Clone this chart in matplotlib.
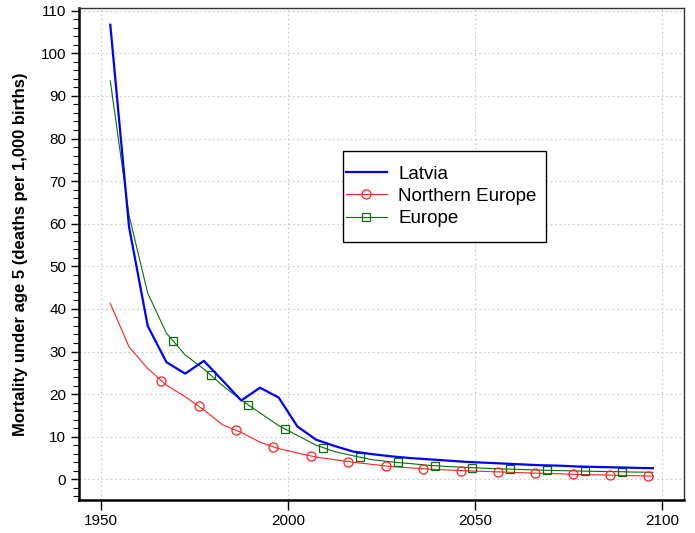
import numpy as np
import matplotlib
matplotlib.use("Agg")
import matplotlib.pyplot as plt
from matplotlib.ticker import MultipleLocator
from matplotlib.patches import Rectangle

plt.rcParams['font.family'] = ['Liberation Sans', 'DejaVu Sans']

years = [1952.5 + 5 * i for i in range(30)]
latvia = [106.7, 59.3, 36.0, 27.5, 24.8, 27.8, 23.2, 18.5, 21.5, 19.2,
          12.4, 9.3, 7.8, 6.5, 5.9, 5.4, 5.0, 4.7, 4.4, 4.1,
          3.9, 3.7, 3.5, 3.3, 3.2, 3.0, 2.9, 2.8, 2.7, 2.6]
northern_europe = [41.3, 31.1, 26.0, 22.1, 19.4, 16.3, 12.8, 11.0, 8.7, 7.2,
                   6.2, 5.2, 4.6, 4.0, 3.5, 3.0, 2.7, 2.4, 2.2, 2.0,
                   1.85, 1.7, 1.55, 1.4, 1.3, 1.15, 1.05, 0.95, 0.85, 0.75]
europe = [93.5, 62.0, 43.7, 34.3, 29.2, 25.9, 22.0, 18.6, 15.6, 12.6,
          10.3, 8.0, 6.5, 5.5, 4.6, 4.1, 3.7, 3.3, 3.0, 2.8,
          2.6, 2.45, 2.3, 2.15, 2.05, 1.95, 1.85, 1.8, 1.7, 1.65]

series_names = ["Latvia", "Northern Europe", "Europe"]
title = "Mortality under age 5"
ylabel = "Mortality under age 5 (deaths per 1,000 births)"

fig = plt.figure(figsize=(6.95, 5.33), dpi=100)
ax = fig.add_axes([0.1132, 0.0619, 0.8703, 0.924])

blue = '#0000ff'
red = '#ff2020'
green = '#0a6e0a'

ax.plot(years, latvia, color=blue, lw=1.6, zorder=3)
ax.plot(years, northern_europe, color=red, lw=0.8, zorder=2)
ax.plot(years, europe, color=green, lw=0.8, zorder=2)

# marker positions along the lines
circ_x = np.arange(1966.1, 2098, 10.0)
sq_x = np.arange(1969.3, 2095, 10.0)
ax.plot(circ_x, np.interp(circ_x, years, northern_europe), ls='none', marker='o',
        ms=6.5, mfc='none', mec=red, mew=0.9, zorder=2)
ax.plot(sq_x, np.interp(sq_x, years, europe), ls='none', marker='s',
        ms=6, mfc='none', mec=green, mew=0.9, zorder=2)

# legend frame (drawn separately for R-like padding)
ax.add_patch(Rectangle((0.437, 0.524), 0.3356, 0.185, transform=ax.transAxes,
                       facecolor='white', edgecolor='black', lw=1.0, zorder=4))

h1, = ax.plot([], [], color=blue, lw=1.6)
h2, = ax.plot([], [], color=red, lw=0.8, marker='o', ms=6.5, mfc='none', mec=red, mew=0.9)
h3, = ax.plot([], [], color=green, lw=0.8, marker='s', ms=6, mfc='none', mec=green, mew=0.9)
leg = ax.legend([h1, h2, h3], series_names, loc='center left',
                bbox_to_anchor=(0.437, 0.6165), fontsize=13.5, frameon=False,
                handlelength=2.2, borderpad=0.15, labelspacing=0.28,
                handletextpad=0.6, borderaxespad=0)
leg.set_zorder(5)

ax.set_xlim(1944.05, 2105.7)
ax.set_ylim(-4.86, 110.75)
ax.set_xticks([1950, 2000, 2050, 2100])
ax.set_yticks(range(0, 111, 10))
ax.yaxis.set_minor_locator(MultipleLocator(2))
ax.tick_params(axis='both', labelsize=11, direction='out', colors='black')
ax.tick_params(axis='y', which='major', length=6, width=1, pad=3)
ax.tick_params(axis='y', which='minor', length=4, width=0.8)
ax.tick_params(axis='x', which='major', length=7, width=1, pad=3)

ax.grid(True, which='major', color='#c8c8c8', linestyle=(0, (1.5, 2.5)), lw=0.8)
ax.set_axisbelow(True)

for s in ['left', 'bottom']:
    ax.spines[s].set_linewidth(1.8)
for s in ['top', 'right']:
    ax.spines[s].set_linewidth(1.0)
    ax.spines[s].set_color('#333333')

ax.set_ylabel(ylabel, fontsize=12, fontweight='bold', labelpad=9)

fig.text(0.548, 1.0 + 3.5 / 533, title, ha='center', va='baseline',
         fontsize=14, fontweight='bold')

fig.savefig('out.png', dpi=100)
